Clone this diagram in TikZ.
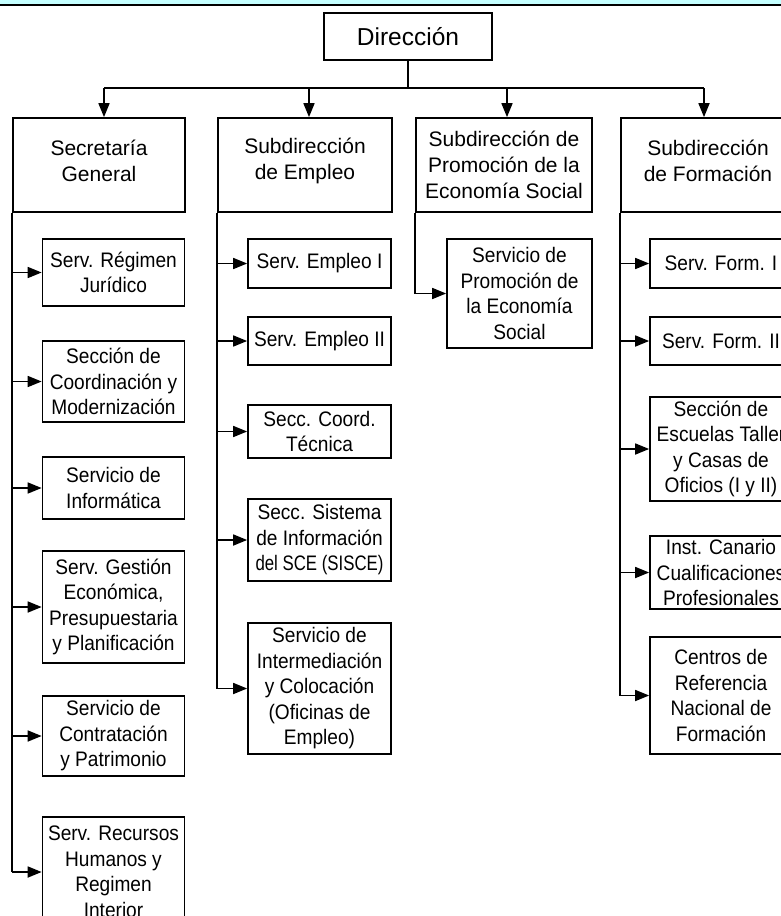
\documentclass[tikz,border=0pt]{standalone}
\usepackage{fontspec}
\setmainfont{Liberation Sans}
\newfontfamily\narrowfont{Liberation Sans}[FakeStretch=0.91]
\newfontfamily\narrowerfont{Liberation Sans}[FakeStretch=0.80]
\usetikzlibrary{arrows.meta}
\definecolor{bandcyan}{HTML}{C4FFFF}
\tikzset{
  box/.style={draw, line width=1.7pt, inner sep=0pt, align=center},
  dirbox/.style={box, font=\fontsize{24.5}{29}\selectfont},
  titlefont/.style={inner sep=0pt, align=center, font=\fontsize{21}{26}\selectfont},
  titlebox/.style={box, titlefont},
  subbox/.style={box, font=\narrowfont\fontsize{21}{25.5}\selectfont},
  conn/.style={line width=1.7pt},
  arr/.style={conn, -{Triangle[length=14pt,width=11pt]}},
}
\begin{document}
\begin{tikzpicture}[x=1pt,y=-1pt]
\useasboundingbox (0,0) rectangle (781,916);
\clip (0,0) rectangle (781,916);
% top band
\fill[bandcyan] (0,0) rectangle (781,5);
\draw[line width=1.7pt] (0,5) -- (781,5);

% main boxes
\node[dirbox, minimum width=168, minimum height=47] (dir) at (408,36.5) {Dirección};
\node[titlebox, minimum width=172, minimum height=94,
      label={[titlefont, yshift=4pt]center:{Secretaría\\General}}] (sec) at (99,165) {};
\node[titlebox, minimum width=174, minimum height=94,
      label={[titlefont, yshift=4pt]center:{Subdirección\\de Empleo}}] (emp) at (305,165) {};
\node[titlebox, minimum width=176, minimum height=94] (pro) at (504,165) {Subdirección de\\Promoción de la\\Economía Social};
\node[titlebox, minimum width=174, minimum height=94,
      label={[titlefont, yshift=4pt]center:{Subdirección\\de Formación}}] (frm) at (708,165) {};

% bus
\coordinate (a1) at (104,88);
\coordinate (a2) at (309,88);
\coordinate (a3) at (507,88);
\coordinate (a4) at (704,88);
\draw[conn] (dir.south) -- (dir.south |- a1);
\draw[conn] (a1) -- (a4);
\draw[arr] (a1) -- (a1 |- sec.north);
\draw[arr] (a2) -- (a2 |- emp.north);
\draw[arr] (a3) -- (a3 |- pro.north);
\draw[arr] (a4) -- (a4 |- frm.north);

% Secretaría General column
\node[subbox, minimum width=142, minimum height=67] (s1) at (113.5,272.5) {Serv. Régimen\\Jurídico};
\node[subbox, minimum width=142, minimum height=81] (s2) at (113.5,381.5) {Sección de\\Coordinación y\\Modernización};
\node[subbox, minimum width=142, minimum height=62] (s3) at (113.5,488) {Servicio de\\Informática};
\node[subbox, minimum width=142, minimum height=112] (s4) at (113.5,607) {Serv. Gestión\\Económica,\\Presupuestaria\\y Planificación};
\node[subbox, minimum width=142, minimum height=80] (s5) at (113.5,736) {Servicio de\\Contratación\\y Patrimonio};
\node[subbox, minimum width=142, minimum height=110] (s6) at (113.5,872) {Serv. Recursos\\Humanos y\\Regimen\\Interior};
\draw[conn] (sec.south west) -- (sec.south west |- s6.west);
\foreach \n in {s1,s2,s3,s4,s5,s6}
  \draw[arr] (sec.south west |- \n.west) -- (\n.west);

% Subdirección de Empleo column
\node[subbox, minimum width=143, minimum height=49] (e1) at (319.5,263.5) {Serv. Empleo I};
\node[subbox, minimum width=143, minimum height=48] (e2) at (319.5,341) {Serv. Empleo II};
\node[subbox, minimum width=143, minimum height=53] (e3) at (319.5,431.5) {Secc. Coord.\\Técnica};
\node[subbox, minimum width=143, minimum height=82] (e4) at (319.5,540) {Secc. Sistema\\de Información\\{\narrowerfont del SCE (SISCE)}};
\node[subbox, minimum width=143, minimum height=131] (e5) at (319.5,688.5) {Servicio de\\Intermediación\\y Colocación\\(Oficinas de\\Empleo)};
\draw[conn] (emp.south west) -- (emp.south west |- e5.west);
\foreach \n in {e1,e2,e3,e4,e5}
  \draw[arr] (emp.south west |- \n.west) -- (\n.west);

% Promoción column
\node[subbox, minimum width=145, minimum height=109] (p1) at (519.5,293.5) {Servicio de\\Promoción de\\la Economía\\Social};
\draw[arr] (pro.south west) |- (p1.west);

% Formación column
\node[subbox, minimum width=142, minimum height=49] (f1) at (721,263.5) {Serv. Form. I};
\node[subbox, minimum width=142, minimum height=48] (f2) at (721,341) {Serv. Form. II};
\node[subbox, minimum width=142, minimum height=104] (f3) at (721,449) {Sección de\\Escuelas Taller\\y Casas de\\Oficios (I y II)};
\node[subbox, minimum width=142, minimum height=73] (f4) at (721,572.5) {Inst. Canario\\Cualificaciones\\Profesionales};
\node[subbox, minimum width=142, minimum height=117] (f5) at (721,695.5) {Centros de\\Referencia\\Nacional de\\Formación};
\draw[conn] (frm.south west) -- (frm.south west |- f5.west);
\foreach \n in {f1,f2,f3,f4,f5}
  \draw[arr] (frm.south west |- \n.west) -- (\n.west);
\end{tikzpicture}
\end{document}
